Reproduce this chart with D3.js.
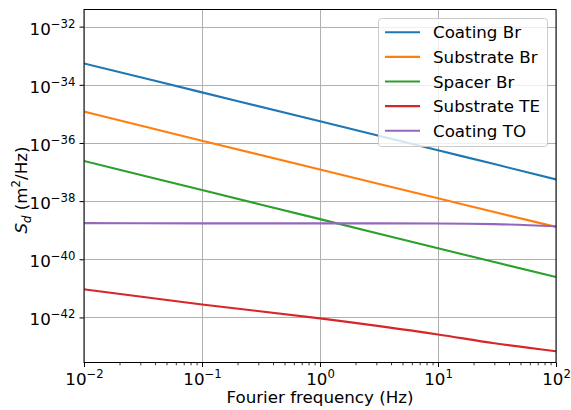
<!DOCTYPE html>
<html>
<head>
<meta charset="utf-8">
<script src="https://cdn.jsdelivr.net/npm/d3@7"></script>
<style>
  html, body { margin: 0; padding: 0; background: #fff; }
  svg { display: block; font-family: "DejaVu Sans", sans-serif; }
</style>
</head>
<body>
<svg id="chart" width="571" height="410"></svg>
<script>
// Fourier frequencies (Hz) at which each noise spectrum is sampled
const freqs = [0.01, 0.1, 1, 10, 30, 100];

// Displacement noise PSD, m^2/Hz
const coatingBr    = [5.4e-34, 5.5e-35, 5.6e-36, 5.6e-37, 1.88e-37, 5.6e-38];
const substrateBr  = [1.2e-35, 1.2e-36, 1.22e-37, 1.25e-38, 4.2e-39, 1.3e-39];
const spacerBr     = [2.4e-37, 2.4e-38, 2.4e-39, 2.4e-40, 8.0e-41, 2.45e-41];
const substrateTE  = [9.3e-42, 2.8e-42, 9.3e-43, 2.6e-43, 1.3e-43, 6.9e-44];
const coatingTO    = [1.75e-39, 1.72e-39, 1.72e-39, 1.7e-39, 1.62e-39, 1.37e-39];

const seriesNames  = ["Coating Br", "Substrate Br", "Spacer Br", "Substrate TE", "Coating TO"];
const seriesValues = [coatingBr, substrateBr, spacerBr, substrateTE, coatingTO];
const seriesColors = ["#1f77b4", "#ff7f0e", "#2ca02c", "#d62728", "#9467bd"];

// Axis ticks (decade exponents)
const xTickExps = [-2, -1, 0, 1, 2];
const yTickExps = [-32, -34, -36, -38, -40, -42];

const xLabel = "Fourier frequency (Hz)";

const svg = d3.select("#chart");
const plotLeft = 84, plotRight = 556, plotTop = 9.5, plotBottom = 362.5;
const fontSize = 16.7;

const x = d3.scaleLog().domain([1e-2, 1e2]).range([plotLeft, plotRight]);
const y = d3.scaleLog().domain([Math.pow(10, -43.55), Math.pow(10, -31.41)]).range([plotBottom, plotTop]);

// Grid
const grid = svg.append("g").attr("stroke", "#b0b0b0").attr("stroke-width", 1);
xTickExps.forEach(e => {
  const px = Math.round(x(Math.pow(10, e))) + 0.5;
  grid.append("line").attr("x1", px).attr("x2", px).attr("y1", plotTop).attr("y2", plotBottom);
});
yTickExps.forEach(e => {
  const py = Math.round(y(Math.pow(10, e))) + 0.5;
  grid.append("line").attr("x1", plotLeft).attr("x2", plotRight).attr("y1", py).attr("y2", py);
});

// Series lines
const line = d3.line().curve(d3.curveMonotoneX).x(d => x(d[0])).y(d => y(d[1]));
const plot = svg.append("g");
plot.append("clipPath").attr("id", "clip").append("rect")
  .attr("x", plotLeft).attr("y", plotTop).attr("width", plotRight - plotLeft).attr("height", plotBottom - plotTop);
seriesValues.forEach((vals, i) => {
  plot.append("path")
    .datum(freqs.map((f, j) => [f, vals[j]]))
    .attr("clip-path", "url(#clip)")
    .attr("fill", "none")
    .attr("stroke", seriesColors[i])
    .attr("stroke-width", 2.1)
    .attr("d", line);
});

// Helper: "10" with a superscript exponent
function powerLabel(sel, exp) {
  sel.text(null);
  sel.append("tspan").text("10");
  sel.append("tspan")
    .attr("font-size", fontSize * 0.7)
    .attr("dy", -fontSize * 0.42)
    .text(exp < 0 ? "\u2212" + Math.abs(exp) : String(exp));
}

// X axis: minor ticks
const minorX = [];
for (let e = -2; e < 2; e++) for (let m = 2; m <= 9; m++) minorX.push(m * Math.pow(10, e));
svg.append("g")
  .attr("transform", `translate(0,${plotBottom})`)
  .call(d3.axisBottom(x).tickValues(minorX).tickSize(2.8).tickFormat(""))
  .call(g => g.select(".domain").remove())
  .selectAll("line").attr("stroke", "#000").attr("stroke-width", 0.8);

// X axis: major ticks and labels
const xAxis = svg.append("g")
  .attr("transform", `translate(0,${plotBottom})`)
  .call(d3.axisBottom(x).tickValues(xTickExps.map(e => Math.pow(10, e))).tickSize(4.5).tickPadding(6));
xAxis.select(".domain").remove();
xAxis.selectAll("line").attr("stroke", "#000").attr("stroke-width", 1);
xAxis.selectAll("text")
  .attr("font-size", fontSize)
  .attr("font-family", "DejaVu Sans")
  .attr("fill", "#000")
  .attr("dy", "0.71em")
  .each(function(d) { powerLabel(d3.select(this), Math.round(Math.log10(d))); });

// Y axis: major ticks and labels
const yAxis = svg.append("g")
  .attr("transform", `translate(${plotLeft},0)`)
  .call(d3.axisLeft(y).tickValues(yTickExps.map(e => Math.pow(10, e))).tickSize(4.5).tickPadding(4));
yAxis.select(".domain").remove();
yAxis.selectAll("line").attr("stroke", "#000").attr("stroke-width", 1);
yAxis.selectAll("text")
  .attr("font-size", fontSize)
  .attr("font-family", "DejaVu Sans")
  .attr("fill", "#000")
  .attr("dy", "0.45em")
  .each(function(d) { powerLabel(d3.select(this), Math.round(Math.log10(d))); });

// Frame
svg.append("rect")
  .attr("x", plotLeft).attr("y", plotTop).attr("width", plotRight - plotLeft).attr("height", plotBottom - plotTop)
  .attr("fill", "none").attr("stroke", "#000").attr("stroke-width", 1);

// Axis labels
svg.append("text")
  .attr("x", (plotLeft + plotRight) / 2).attr("y", 403)
  .attr("text-anchor", "middle").attr("font-size", fontSize)
  .text(xLabel);

const yl = svg.append("text")
  .attr("transform", `translate(27,${(plotTop + plotBottom) / 2 + 4}) rotate(-90)`)
  .attr("text-anchor", "middle").attr("font-size", fontSize);
yl.append("tspan").attr("font-style", "italic").text("S");
yl.append("tspan").attr("font-style", "italic").attr("font-size", fontSize * 0.7).attr("dy", 4).text("d");
yl.append("tspan").attr("dy", -4).text(" (m");
yl.append("tspan").attr("font-size", fontSize * 0.7).attr("dy", -7).text("2");
yl.append("tspan").attr("dy", 7).text("/Hz)");

// Legend
const lg = svg.append("g");
lg.append("rect")
  .attr("x", 378.5).attr("y", 18.5).attr("width", 169).attr("height", 128)
  .attr("rx", 3).attr("ry", 3)
  .attr("fill", "#fff").attr("fill-opacity", 0.8)
  .attr("stroke", "#cccccc").attr("stroke-width", 1);
seriesNames.forEach((name, i) => {
  const cy = 32.3 + i * 24.6;
  lg.append("line")
    .attr("x1", 385).attr("x2", 420).attr("y1", cy).attr("y2", cy)
    .attr("stroke", seriesColors[i]).attr("stroke-width", 2.1);
  lg.append("text")
    .attr("x", 433).attr("y", cy + 6)
    .attr("font-size", fontSize).attr("fill", "#000")
    .text(name);
});
</script>
</body>
</html>
